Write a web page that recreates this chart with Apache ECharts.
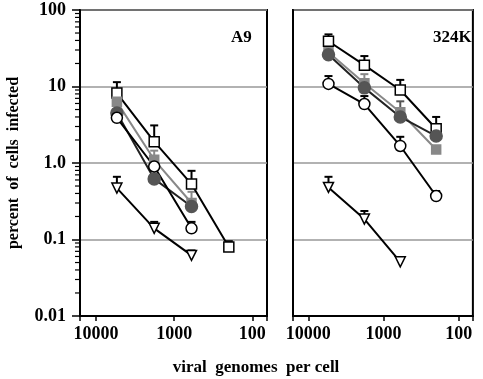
<!DOCTYPE html>
<html>
<head>
<meta charset="utf-8">
<script src="https://cdn.jsdelivr.net/npm/echarts@6/dist/echarts.min.js"></script>
<style>
  html, body { margin: 0; padding: 0; background: #fff; }
  #chart { width: 483px; height: 379px; }
</style>
</head>
<body>
<div id="chart"></div>
<script>
// viral genomes per cell (dilution steps)
const doses = [5400, 1800, 600, 200];
const yTickLabels = { "-2": "0.01", "-1": "0.1", "0": "1.0", "1": "10", "2": "100" };
const yMinorTicks = [
  0.02, 0.03, 0.04, 0.05, 0.06, 0.07, 0.08, 0.09,
  0.2, 0.3, 0.4, 0.5, 0.6, 0.7, 0.8, 0.9,
  2, 3, 4, 5, 6, 7, 8, 9,
  20, 30, 40, 50, 60, 70, 80, 90,
];

// A9 panel
const a9OpenSq = [8.2, 1.9, 0.53, 0.08];
const a9OpenSqErr = [11.4, 3.1, 0.79, 0.095];
const a9GraySq = [6.3, 1.1, 0.3];
const a9GraySqErr = [null, 1.45, 0.42];
const a9FilledCirc = [4.5, 0.62, 0.27];
const a9OpenCirc = [3.9, 0.9, 0.14];
const a9OpenCircErr = [null, null, 0.17];
const a9Tri = [0.47, 0.14, 0.062];
const a9TriErr = [0.66, 0.17, 0.072];

// 324K panel
const k324OpenSq = [39, 19, 9.0, 2.8];
const k324OpenSqErr = [48, 25, 12.2, 4.0];
const k324GraySq = [28, 11, 4.6, 1.5];
const k324GraySqErr = [null, 14.5, null, null];
const k324FilledCirc = [26, 9.6, 4.0, 2.25];
const k324FilledCircErr = [null, null, 6.4, null];
const k324OpenCirc = [10.8, 5.9, 1.67, 0.37];
const k324OpenCircErr = [13.7, 7.5, 2.2, 0.43];
const k324Tri = [0.48, 0.185, 0.051];
const k324TriErr = [0.66, 0.236, 0.059];

const font = "Liberation Serif";
const chart = echarts.init(document.getElementById("chart"));

function pairs(vals) {
  return vals.map((v, i) => [doses[i], v]);
}

function lineSeries(idx, vals, sym, fill, stroke, size, rotate) {
  return {
    type: "line",
    xAxisIndex: idx,
    yAxisIndex: idx,
    data: pairs(vals),
    symbol: sym,
    symbolSize: size,
    symbolRotate: rotate || 0,
    showAllSymbol: true,
    lineStyle: { color: stroke, width: 2 },
    itemStyle: { color: fill, borderColor: fill === "#fff" ? "#000" : fill, borderWidth: 1.5, opacity: 1 },
    z: 3,
    animation: false,
  };
}

function errSeries(idx, vals, tops, color) {
  const data = [];
  tops.forEach((t, i) => {
    if (t != null) data.push([doses[i], vals[i], t]);
  });
  return {
    type: "custom",
    xAxisIndex: idx,
    yAxisIndex: idx,
    data: data,
    itemStyle: { color: color },
    z: 2,
    animation: false,
    renderItem(params, api) {
      const p = api.coord([api.value(0), api.value(1)]);
      const t = api.coord([api.value(0), api.value(2)]);
      const c = api.visual("color");
      return {
        type: "group",
        children: [
          { type: "line", shape: { x1: p[0], y1: p[1], x2: t[0], y2: t[1] }, style: { stroke: c, lineWidth: 2 } },
          { type: "line", shape: { x1: t[0] - 4, y1: t[1], x2: t[0] + 4, y2: t[1] }, style: { stroke: c, lineWidth: 2 } },
        ],
      };
    },
  };
}

// log-style minor ticks (2..9 per decade) on the left y axis
const minorTickSeries = {
  type: "custom",
  xAxisIndex: 0,
  yAxisIndex: 0,
  data: yMinorTicks.map((v) => [10000, v, v]),
  itemStyle: { color: "#000" },
  z: 10,
  animation: false,
  renderItem(params, api) {
    const p = api.coord([api.value(0), api.value(1)]);
    const x0 = api.coord([16000, api.value(1)])[0];
    return {
      type: "group",
      children: [
        { type: "line", shape: { x1: x0 - 5, y1: p[1], x2: x0, y2: p[1] }, style: { stroke: "#000", lineWidth: 1.2 } },
      ],
    };
  },
};

function xAxis(idx) {
  return {
    type: "log",
    gridIndex: idx,
    inverse: true,
    min: 65,
    max: 16000,
    axisLine: { lineStyle: { color: "#000", width: 2 } },
    axisTick: { show: true, inside: false, length: 5, lineStyle: { color: "#000", width: 1.5 } },
    splitLine: { show: false },
    axisLabel: {
      color: "#000",
      fontFamily: font,
      fontWeight: "bold",
      fontSize: 18,
      margin: 9,
      showMinLabel: true,
      showMaxLabel: true,
      formatter(v) {
        const e = Math.log10(v);
        return Math.abs(e - Math.round(e)) < 1e-6 ? String(Math.round(v)) : "";
      },
    },
  };
}

function yAxis(idx) {
  const left = idx === 0;
  return {
    type: "log",
    gridIndex: idx,
    min: 0.01,
    max: 100,
    axisLine: { show: true, lineStyle: { color: "#000", width: 2 } },
    axisTick: { show: left, inside: false, length: 8, lineStyle: { color: "#000", width: 1.5 } },
    splitLine: { show: true, lineStyle: { color: "#999", width: 1.5 } },
    axisLabel: {
      show: left,
      color: "#000",
      fontFamily: font,
      fontWeight: "bold",
      fontSize: 18,
      margin: 14,
      formatter(v) {
        return yTickLabels[String(Math.round(Math.log10(v)))] || "";
      },
    },
    name: left ? "percent  of  cells  infected" : "",
    nameLocation: "middle",
    nameGap: 58,
    nameTextStyle: { color: "#000", fontFamily: font, fontWeight: "bold", fontSize: 16 },
  };
}

const option = {
  backgroundColor: "#fff",
  animation: false,
  grid: [
    { left: 80, top: 10, width: 187, height: 306, show: true, borderColor: "#000", borderWidth: 2 },
    { left: 293, top: 10, width: 189, height: 306, show: true, borderColor: "#000", borderWidth: 2 },
  ],
  title: [
    { text: "A9", left: 226, top: 24, textStyle: { fontFamily: font, fontWeight: "bold", fontSize: 17, color: "#000" } },
    { text: "324K", left: 428, top: 24, textStyle: { fontFamily: font, fontWeight: "bold", fontSize: 17, color: "#000" } },
  ],
  graphic: [
    {
      type: "text",
      x: 256,
      y: 368,
      style: {
        text: "viral  genomes  per cell",
        fill: "#000",
        font: "bold 17px 'Liberation Serif'",
        textAlign: "center",
        textVerticalAlign: "middle",
      },
    },
  ],
  xAxis: [xAxis(0), xAxis(1)],
  yAxis: [yAxis(0), yAxis(1)],
  series: [
    minorTickSeries,
    errSeries(0, a9OpenSq, a9OpenSqErr, "#000"),
    errSeries(0, a9GraySq, a9GraySqErr, "#888"),
    errSeries(0, a9OpenCirc, a9OpenCircErr, "#000"),
    errSeries(0, a9Tri, a9TriErr, "#000"),
    lineSeries(0, a9OpenSq, "rect", "#fff", "#000", 10),
    lineSeries(0, a9GraySq, "rect", "#888", "#888", 9),
    lineSeries(0, a9FilledCirc, "circle", "#555", "#222", 12),
    lineSeries(0, a9OpenCirc, "circle", "#fff", "#000", 11),
    lineSeries(0, a9Tri, "triangle", "#fff", "#000", 10, 180),

    errSeries(1, k324OpenSq, k324OpenSqErr, "#000"),
    errSeries(1, k324GraySq, k324GraySqErr, "#888"),
    errSeries(1, k324FilledCirc, k324FilledCircErr, "#555"),
    errSeries(1, k324OpenCirc, k324OpenCircErr, "#000"),
    errSeries(1, k324Tri, k324TriErr, "#000"),
    lineSeries(1, k324OpenSq, "rect", "#fff", "#000", 10),
    lineSeries(1, k324GraySq, "rect", "#888", "#888", 9),
    lineSeries(1, k324FilledCirc, "circle", "#555", "#222", 12),
    lineSeries(1, k324OpenCirc, "circle", "#fff", "#000", 11),
    lineSeries(1, k324Tri, "triangle", "#fff", "#000", 10, 180),
  ],
};

chart.setOption(option);
</script>
</body>
</html>
